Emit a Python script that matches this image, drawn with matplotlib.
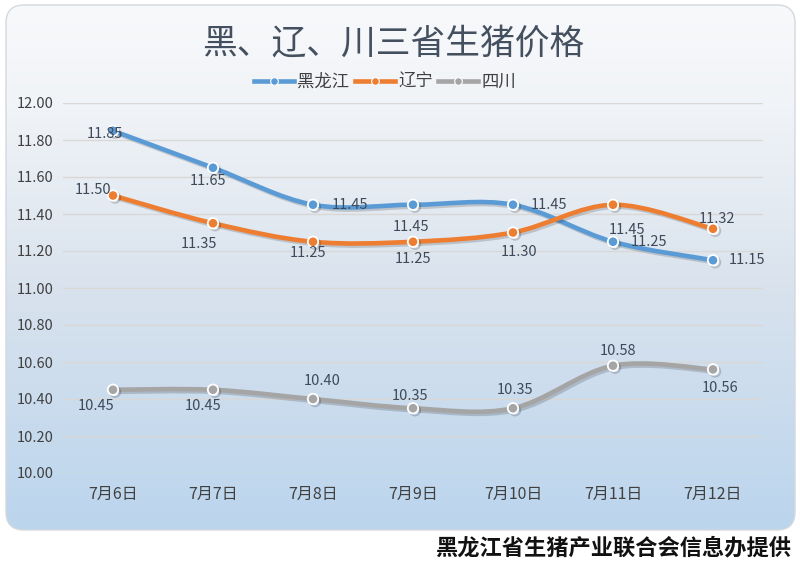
import numpy as np
import matplotlib
matplotlib.use("Agg")
import matplotlib.pyplot as plt
from matplotlib.patches import FancyBboxPatch
from matplotlib.path import Path
from matplotlib.patches import PathPatch
from matplotlib.lines import Line2D
import matplotlib.patheffects as pe

plt.rcParams['font.family'] = ['Noto Sans CJK SC', 'DejaVu Sans']

# ---- data ----
categories = ["7月6日", "7月7日", "7月8日", "7月9日", "7月10日", "7月11日", "7月12日"]
hlj = [11.85, 11.65, 11.45, 11.45, 11.45, 11.25, 11.15]
ln = [11.50, 11.35, 11.25, 11.25, 11.30, 11.45, 11.32]
sc = [10.45, 10.45, 10.40, 10.35, 10.35, 10.58, 10.56]
series_names = ["黑龙江", "辽宁", "四川"]
yticks = [10.00, 10.20, 10.40, 10.60, 10.80, 11.00, 11.20, 11.40, 11.60, 11.80, 12.00]
title = "黑、辽、川三省生猪价格"
footer = "黑龙江省生猪产业联合会信息办提供"

colors = ["#5B9BD5", "#ED7D31", "#A5A5A5"]
# label offsets in pixels (dx, dy)
offsets = [
    [(-8, -3), (-5, -13), (37, 0), (-2, -22), (36, 0), (36, 0), (34, 0)],
    [(-20, 6), (-14, -21), (-5, -11), (0, -17), (6, -19), (14, -25), (4, 10)],
    [(-17, -16), (-10, -16), (9, 18), (-3, 12), (2, 18), (5, 15), (7, -19)],
]

fig = plt.figure(figsize=(8, 5.69), dpi=100)

# ---- background rounded box with gradient ----
bg = fig.add_axes([0, 0, 1, 1])
bg.set_xlim(0, 800)
bg.set_ylim(569, 0)
bg.axis('off')
box = FancyBboxPatch((6, 5), 789, 525, boxstyle="round,pad=0,rounding_size=18",
                     facecolor='none', edgecolor='#D5D8DC', lw=1.0, zorder=3)
bg.add_patch(box)
stops = np.array([[0.0, 248, 249, 251], [0.2, 240, 243, 247], [0.55, 216, 226, 237], [1.0, 187, 213, 238]])
t = np.linspace(0, 1, 256)
grad = np.stack([np.interp(t, stops[:, 0], stops[:, k]) for k in (1, 2, 3)], axis=-1) / 255.0
img = np.repeat(grad[:, None, :], 2, axis=1)
im = bg.imshow(img, extent=(6, 795, 530, 5), aspect='auto', interpolation='bicubic', zorder=1)
im.set_clip_path(box)

# ---- main axes ----
ax = fig.add_axes([63 / 800, 1 - 473 / 569, 700 / 800, 370 / 569])
ax.patch.set_alpha(0)
for s in ax.spines.values():
    s.set_visible(False)
ax.set_xlim(-0.5, len(categories) - 0.5)
ax.set_ylim(10.0, 12.0)
ax.set_yticks(yticks)
ax.set_yticklabels([f"{v:.2f}" for v in yticks])
ax.set_xticks(range(len(categories)))
ax.set_xticklabels(categories)
ax.tick_params(axis='both', length=0, labelcolor='#404040')
ax.tick_params(axis='y', pad=7, labelsize=10.5)
ax.tick_params(axis='x', pad=9, labelsize=11.5)
ax.yaxis.grid(True, color='#DAD8D6', lw=1.0)
ax.set_axisbelow(True)


def smooth_path(xs, ys):
    pts = np.column_stack([xs, ys]).astype(float)
    n = len(pts)
    verts = [pts[0]]
    codes = [Path.MOVETO]
    for i in range(n - 1):
        p0 = pts[i - 1] if i > 0 else pts[i]
        p1 = pts[i]
        p2 = pts[i + 1]
        p3 = pts[i + 2] if i + 2 < n else pts[i + 1]
        c1 = p1 + (p2 - p0) / 6.0
        c2 = p2 - (p3 - p1) / 6.0
        verts += [c1, c2, p2]
        codes += [Path.CURVE4] * 3
    return Path(verts, codes)


shadow = [pe.SimpleLineShadow(offset=(1.5, -1.5), shadow_color='k', alpha=0.18), pe.Normal()]
xs = np.arange(len(categories))
for vals, col, offs in zip([hlj, ln, sc], colors, offsets):
    patch = PathPatch(smooth_path(xs, vals), facecolor='none', edgecolor=col, lw=3.3,
                      capstyle='round', joinstyle='round', zorder=3)
    patch.set_path_effects([pe.SimpleLineShadow(offset=(1.5, -1.5), shadow_color='k', alpha=0.16),
                            pe.Normal()])
    ax.add_patch(patch)
    ax.plot(xs, vals, linestyle='none', marker='o', markersize=7.5, markerfacecolor=col,
            markeredgecolor='white', markeredgewidth=1.3, zorder=4,
            path_effects=shadow)
    for i, v in enumerate(vals):
        dx, dy = offs[i]
        ax.annotate(f"{v:.2f}", (i, v), xytext=(dx, dy), textcoords='offset pixels',
                    ha='center', va='center', fontsize=10.5, color='#3E4A5A', zorder=5)

# ---- title & legend ----
fig.text(393 / 800, 1 - 44 / 569, title, ha='center', va='center', fontsize=25,
         fontweight='normal', color='#44505F')
handles = [Line2D([0], [0], color=c, lw=3.3, marker='o', markersize=5.5,
                  markerfacecolor=c, markeredgecolor='white', markeredgewidth=0.8) for c in colors]
fig.legend(handles, series_names, loc='center', bbox_to_anchor=(385 / 800, 1 - 82 / 569),
           ncol=3, frameon=False, handlelength=2.3, handletextpad=0.2, columnspacing=0.3,
           prop={'size': 12.5}, labelcolor='#404040')

# ---- footer ----
fig.text(791 / 800, 1 - 548 / 569, footer, ha='right', va='center', fontsize=16,
         fontweight='bold', color='#111111')

fig.savefig("out.png", dpi=100)
